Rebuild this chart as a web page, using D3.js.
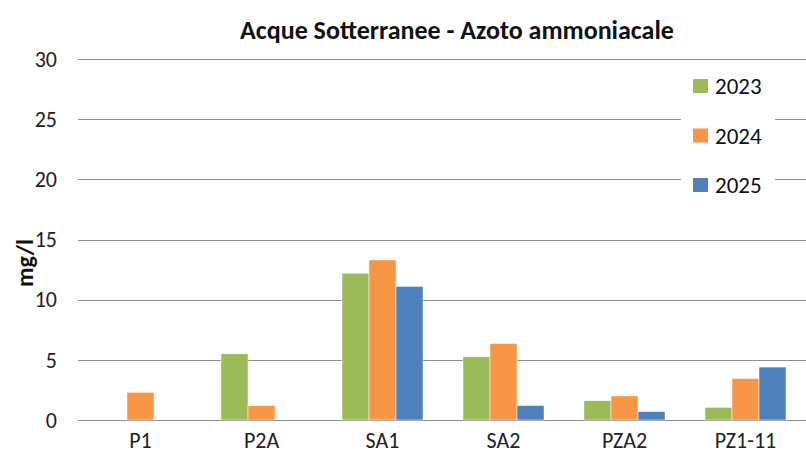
<!DOCTYPE html>
<html>
<head>
<meta charset="utf-8">
<script src="https://cdn.jsdelivr.net/npm/d3@7"></script>
<style>
  body { margin: 0; background: #fff; }
  svg { font-family: Carlito, "Open Sans", "Liberation Sans", sans-serif; }
</style>
</head>
<body>
<div id="chart"></div>
<script>
const width = 806;
const height = 461;

const categories = ['P1', 'P2A', 'SA1', 'SA2', 'PZA2', 'PZ1-11'];
const years = ['2023', '2024', '2025'];
const values2023 = [null, 5.5, 12.2, 5.25, 1.6, 1.05];
const values2024 = [2.3, 1.2, 13.3, 6.35, 2.0, 3.45];
const values2025 = [null, null, 11.1, 1.2, 0.7, 4.4];
const yTicks = [0, 5, 10, 15, 20, 25, 30];
const colors = ['#9bbb59', '#f79646', '#4f81bd'];

const series = [values2023, values2024, values2025];

const margin = { top: 59, right: 0, bottom: 41, left: 80 };

const svg = d3.select('#chart')
  .append('svg')
  .attr('width', width)
  .attr('height', height);

const x = d3.scaleBand()
  .domain(categories)
  .range([margin.left, width])
  .paddingInner(0.33)
  .paddingOuter(0.165);

const xSub = d3.scaleBand()
  .domain(years)
  .range([0, x.bandwidth()]);

const y = d3.scaleLinear()
  .domain([0, 30])
  .range([height - margin.bottom, margin.top]);

// gridlines
svg.append('g')
  .selectAll('line')
  .data(yTicks)
  .enter()
  .append('line')
  .attr('x1', 78)
  .attr('x2', width)
  .attr('y1', d => Math.round(y(d)) + 0.5)
  .attr('y2', d => Math.round(y(d)) + 0.5)
  .attr('stroke', '#8c8c8c')
  .attr('stroke-width', 1);

// y tick labels
svg.append('g')
  .selectAll('text')
  .data(yTicks)
  .enter()
  .append('text')
  .attr('x', 57)
  .attr('y', d => y(d))
  .attr('dy', '0.35em')
  .attr('text-anchor', 'end')
  .style('font-size', '22px')
  .attr('fill', '#222')
  .text(d => d);

// bars
series.forEach((vals, i) => {
  svg.append('g')
    .selectAll('rect')
    .data(categories.map((c, j) => ({ cat: c, v: vals[j] })).filter(d => d.v != null))
    .enter()
    .append('rect')
    .attr('x', d => x(d.cat) + xSub(years[i]))
    .attr('y', d => y(d.v))
    .attr('width', xSub.bandwidth())
    .attr('height', d => y(0) - y(d.v))
    .attr('fill', colors[i])
    .attr('stroke', '#fff')
    .attr('stroke-width', 0.5);
});

// x labels
svg.append('g')
  .selectAll('text')
  .data(categories)
  .enter()
  .append('text')
  .attr('x', d => x(d) + x.bandwidth() / 2)
  .attr('y', 448)
  .attr('text-anchor', 'middle')
  .style('font-size', '22px')
  .attr('fill', '#222')
  .text(d => d);

// title
svg.append('text')
  .attr('x', 457)
  .attr('y', 39)
  .attr('text-anchor', 'middle')
  .style('font-size', '26px')
  .style('font-weight', 'bold')
  .attr('fill', '#111')
  .text('Acque Sotterranee - Azoto ammoniacale');

// y axis title
svg.append('text')
  .attr('transform', 'translate(33,263) rotate(-90)')
  .attr('text-anchor', 'middle')
  .style('font-size', '24px')
  .style('font-weight', 'bold')
  .attr('fill', '#111')
  .text('mg/l');

// legend
const legend = svg.append('g').attr('transform', 'translate(681,62)');
legend.append('rect')
  .attr('width', 94)
  .attr('height', 145)
  .attr('fill', '#fff');
years.forEach((yr, i) => {
  const g = legend.append('g').attr('transform', `translate(12,${24 + i * 49.5})`);
  g.append('rect')
    .attr('x', 0)
    .attr('y', -7)
    .attr('width', 15)
    .attr('height', 14)
    .attr('fill', colors[i]);
  g.append('text')
    .attr('x', 22)
    .attr('y', 0)
    .attr('dy', '0.35em')
    .style('font-size', '23px')
    .attr('fill', '#111')
    .text(yr);
});
</script>
</body>
</html>
